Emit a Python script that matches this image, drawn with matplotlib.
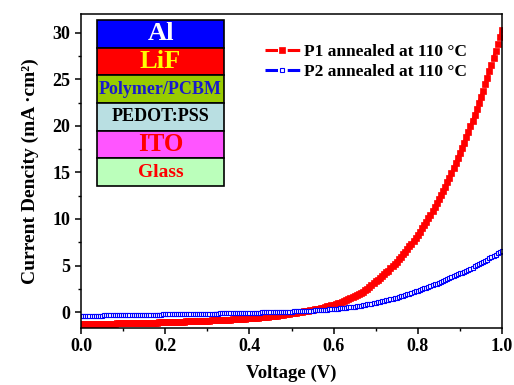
import numpy as np
import matplotlib
matplotlib.use("Agg")
import matplotlib.pyplot as plt
from matplotlib.patches import Rectangle
from matplotlib.ticker import FormatStrFormatter

plt.rcParams['font.family'] = ['Liberation Serif', 'DejaVu Serif']
plt.rcParams['font.weight'] = 'bold'
plt.rcParams['lines.scale_dashes'] = False

# voltage sweep (V), 0.005 V steps
voltage = np.round(np.arange(0, 201) * 0.005, 3)

# P1 current density (mA/cm2)
p1_current = [
    -1.300, -1.295, -1.290, -1.285, -1.280, -1.275, -1.270, -1.265, -1.260, -1.255,
    -1.250, -1.245, -1.240, -1.235, -1.230, -1.225, -1.220, -1.215, -1.210, -1.205,
    -1.200, -1.195, -1.190, -1.185, -1.180, -1.175, -1.170, -1.165, -1.160, -1.155,
    -1.150, -1.145, -1.140, -1.130, -1.120, -1.115, -1.110, -1.105, -1.100, -1.090,
    -1.080, -1.075, -1.070, -1.060, -1.050, -1.045, -1.040, -1.030, -1.020, -1.010,
    -1.000, -0.990, -0.980, -0.970, -0.960, -0.950, -0.940, -0.935, -0.930, -0.920,
    -0.910, -0.900, -0.890, -0.880, -0.870, -0.860, -0.850, -0.840, -0.830, -0.815,
    -0.800, -0.790, -0.780, -0.765, -0.750, -0.735, -0.720, -0.705, -0.690, -0.675,
    -0.660, -0.645, -0.630, -0.610, -0.590, -0.570, -0.550, -0.530, -0.510, -0.485,
    -0.460, -0.430, -0.400, -0.365, -0.330, -0.295, -0.260, -0.225, -0.190, -0.155,
    -0.120, -0.085, -0.050, -0.015, 0.020, 0.055, 0.090, 0.130, 0.170, 0.210,
    0.250, 0.295, 0.340, 0.390, 0.440, 0.495, 0.550, 0.610, 0.670, 0.735,
    0.800, 0.870, 0.940, 1.020, 1.100, 1.190, 1.280, 1.380, 1.480, 1.590,
    1.700, 1.820, 1.940, 2.070, 2.200, 2.360, 2.520, 2.710, 2.900, 3.100,
    3.300, 3.480, 3.660, 3.850, 4.050, 4.260, 4.470, 4.690, 4.920, 5.160,
    5.400, 5.660, 5.920, 6.190, 6.470, 6.760, 7.050, 7.350, 7.660, 7.980,
    8.300, 8.640, 8.980, 9.340, 9.700, 10.070, 10.450, 10.850, 11.250, 11.670,
    12.100, 12.550, 13.000, 13.470, 13.950, 14.450, 14.950, 15.470, 16.000, 16.550,
    17.100, 17.650, 18.200, 18.770, 19.350, 19.950, 20.550, 21.170, 21.800, 22.450,
    23.100, 23.770, 24.450, 25.150, 25.850, 26.570, 27.300, 28.050, 28.800, 29.550,
    30.300,
]

# P2 current density (mA/cm2)
p2_current = [
    -0.400, -0.396, -0.392, -0.389, -0.385, -0.381, -0.377, -0.373, -0.369, -0.366,
    -0.362, -0.358, -0.354, -0.350, -0.346, -0.343, -0.339, -0.335, -0.331, -0.327,
    -0.323, -0.320, -0.316, -0.312, -0.308, -0.304, -0.300, -0.297, -0.293, -0.289,
    -0.285, -0.281, -0.277, -0.274, -0.270, -0.266, -0.262, -0.258, -0.254, -0.251,
    -0.247, -0.243, -0.239, -0.235, -0.231, -0.228, -0.224, -0.220, -0.216, -0.212,
    -0.208, -0.205, -0.201, -0.197, -0.193, -0.189, -0.185, -0.182, -0.178, -0.174,
    -0.170, -0.165, -0.160, -0.155, -0.150, -0.145, -0.140, -0.135, -0.130, -0.125,
    -0.120, -0.115, -0.110, -0.105, -0.100, -0.095, -0.090, -0.085, -0.080, -0.075,
    -0.070, -0.064, -0.058, -0.052, -0.046, -0.040, -0.034, -0.028, -0.022, -0.016,
    -0.010, -0.002, 0.006, 0.014, 0.022, 0.030, 0.038, 0.046, 0.054, 0.062,
    0.070, 0.079, 0.088, 0.098, 0.108, 0.118, 0.129, 0.140, 0.151, 0.162,
    0.174, 0.188, 0.202, 0.216, 0.231, 0.246, 0.262, 0.278, 0.295, 0.312,
    0.330, 0.355, 0.380, 0.405, 0.430, 0.455, 0.482, 0.510, 0.540, 0.570,
    0.600, 0.635, 0.670, 0.710, 0.750, 0.790, 0.830, 0.870, 0.910, 0.955,
    1.000, 1.050, 1.100, 1.150, 1.200, 1.255, 1.310, 1.370, 1.430, 1.490,
    1.550, 1.620, 1.690, 1.760, 1.830, 1.905, 1.980, 2.060, 2.140, 2.220,
    2.300, 2.380, 2.460, 2.545, 2.630, 2.715, 2.800, 2.885, 2.970, 3.060,
    3.150, 3.245, 3.340, 3.435, 3.530, 3.630, 3.730, 3.835, 3.940, 4.045,
    4.150, 4.255, 4.360, 4.465, 4.570, 4.680, 4.790, 4.905, 5.020, 5.135,
    5.250, 5.375, 5.500, 5.630, 5.760, 5.895, 6.030, 6.170, 6.310, 6.455,
    6.600,
]

labels = ["P1 annealed at 110 \u00b0C", "P2 annealed at 110 \u00b0C"]

# device stack drawn in the corner, top layer first
layer_names = ["Al", "LiF", "Polymer/PCBM", "PEDOT:PSS", "ITO", "Glass"]
layer_fill = ["#0000ff", "#ff0000", "#99cc00", "#b9dfe2", "#ff55ff", "#bbffbb"]
layer_text = ["white", "#ffff00", "#1a1acc", "black", "#ff0000", "#ff0000"]
layer_size = [19, 19, 13, 13, 18, 14]

# dash, gap, dot, gap -- the dot sits under the marker in the legend
dash_dot = (0, (9, 3, 1, 3))

fig = plt.figure(figsize=(5.14, 3.85), dpi=100)
ax = fig.add_axes([81 / 514, 1 - 328 / 385, 421 / 514, 314 / 385])

ax.plot(voltage, p1_current, color="red", ls=dash_dot, lw=2.2, marker="s",
        ms=3.8, mfc="red", mec="red", mew=0.5, label=labels[0])
ax.plot(voltage, p2_current, color="blue", ls=dash_dot, lw=2.2, marker="s",
        ms=3.2, mfc="white", mec="blue", mew=0.8, label=labels[1])

ax.set_xlim(0, 1.0)
ax.set_ylim(-1.7, 32)
ax.set_xticks(np.arange(0, 1.01, 0.2))
ax.set_xticks(np.arange(0, 1.01, 0.1), minor=True)
ax.set_yticks(np.arange(0, 31, 5))
ax.set_yticks(np.arange(0, 31, 2.5), minor=True)
ax.xaxis.set_major_formatter(FormatStrFormatter('%.1f'))
ax.tick_params(which='major', direction='out', length=4, width=1.1,
               labelsize=13, top=False, right=False)
ax.tick_params(which='minor', direction='out', length=2.5, width=1.0,
               top=False, right=False)
for s in ax.spines.values():
    s.set_linewidth(1.1)

ax.set_xlabel("Voltage (V)", fontsize=13.5, fontweight='bold', labelpad=7)
ax.set_ylabel("Current Dencity (mA \u00b7cm\u00b2)", fontsize=14,
              fontweight='bold', labelpad=10)

ax.legend(loc='upper left', bbox_to_anchor=(0.437, 0.905), frameon=False,
          fontsize=12.5, handlelength=2.0, handletextpad=0.25,
          labelspacing=0.2, borderaxespad=0, borderpad=0)

# layer stack
x0, x1 = 0.038, 0.340
y_top, y_bot = 0.981, 0.452
h = (y_top - y_bot) / len(layer_names)
for i, name in enumerate(layer_names):
    yb = y_top - (i + 1) * h
    ax.add_patch(Rectangle((x0, yb), x1 - x0, h, transform=ax.transAxes,
                           facecolor=layer_fill[i], edgecolor="black",
                           lw=1.2, zorder=5))
    ax.text((x0 + x1) / 2, yb + h / 2, name, transform=ax.transAxes,
            ha='center', va='center', color=layer_text[i],
            fontsize=layer_size[i], fontweight='bold', zorder=6)

fig.savefig("out.png", dpi=100)
